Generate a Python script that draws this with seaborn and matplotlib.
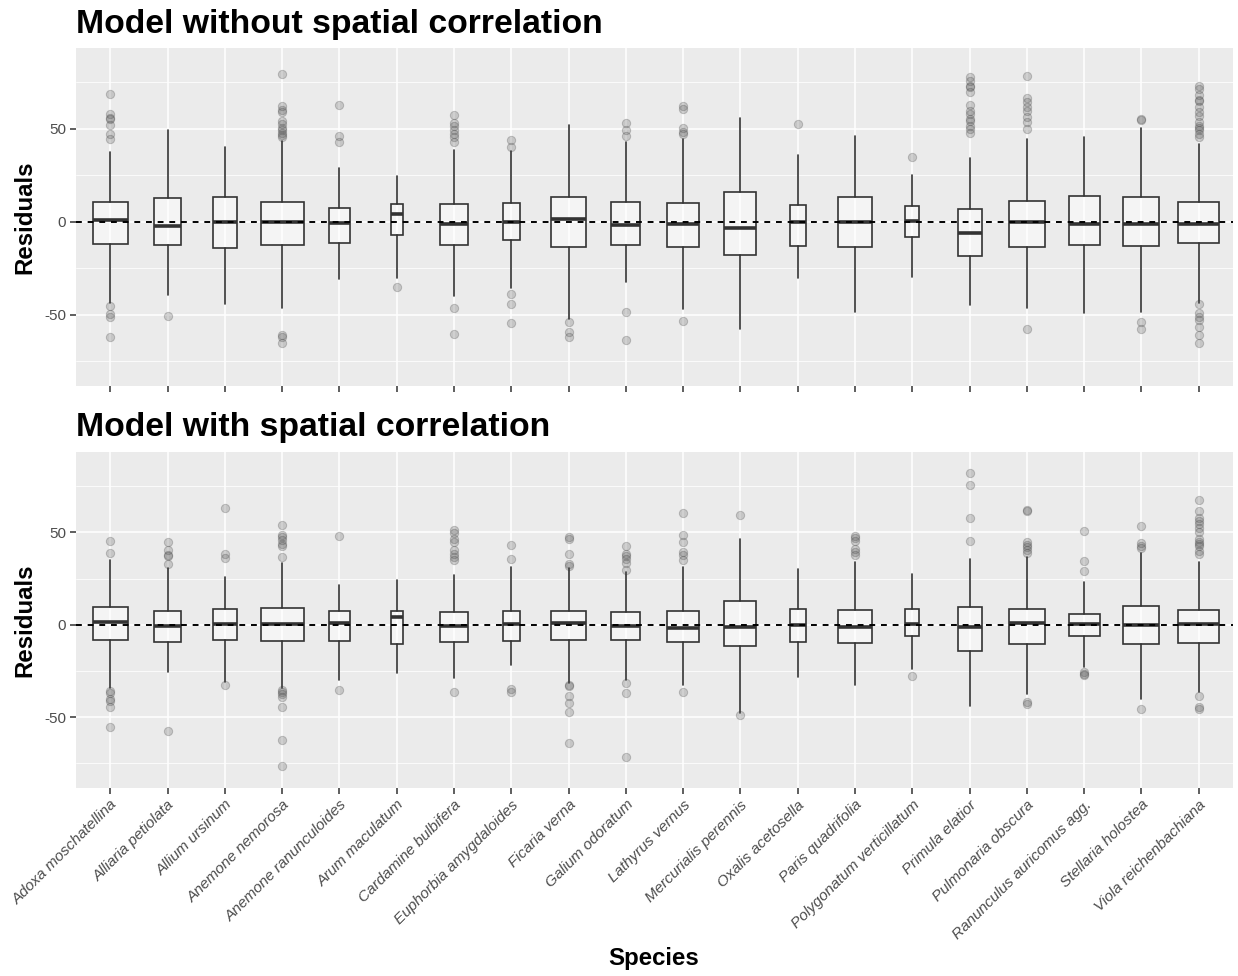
import numpy as np
import pandas as pd
import matplotlib
matplotlib.use("Agg")
import matplotlib.pyplot as plt
import seaborn as sns

# ---------------- data ----------------
species = ["Adoxa moschatellina", "Alliaria petiolata", "Allium ursinum",
           "Anemone nemorosa", "Anemone ranunculoides", "Arum maculatum",
           "Cardamine bulbifera", "Euphorbia amygdaloides", "Ficaria verna",
           "Galium odoratum", "Lathyrus vernus", "Mercurialis perennis",
           "Oxalis acetosella", "Paris quadrifolia", "Polygonatum verticillatum",
           "Primula elatior", "Pulmonaria obscura", "Ranunculus auricomus agg.",
           "Stellaria holostea", "Viola reichenbachiana"]

# estimated sample sizes (box widths ~ sqrt(n))
n_obs = [260, 158, 125, 400, 102, 30, 173, 62, 275, 185,
         221, 221, 57, 255, 42, 125, 280, 208, 280, 369]

# Model without spatial correlation
top_q1 = [-11.8, -12.5, -14.1, -12.2, -11.5, -7.2, -12.4, -9.7, -13.4, -12.7,
          -13.6, -17.9, -12.9, -13.8, -7.9, -18.3, -13.4, -12.7, -12.9, -11.5]
top_median = [0.8, -2.1, -0.2, 0.0, -0.5, 4.1, -1.1, -0.2, 1.3, -1.8,
              -1.4, -3.2, 0.0, -0.2, 0.7, -5.9, 0.0, -1.4, -1.4, -1.2]
top_q3 = [10.4, 12.6, 13.6, 10.9, 7.4, 9.7, 9.5, 9.9, 13.3, 10.6,
          9.9, 16.1, 8.8, 13.6, 8.6, 6.8, 11.1, 14.0, 13.6, 10.4]
top_lower = [-43.9, -39.4, -44.1, -46.2, -31.0, -30.3, -39.8, -35.8, -52.5, -32.3,
             -46.8, -57.9, -30.1, -48.4, -29.5, -44.8, -46.2, -48.9, -48.7, -43.5]
top_upper = [37.6, 49.3, 40.2, 43.4, 28.7, 24.6, 38.9, 38.0, 52.0, 42.7,
             44.3, 55.9, 35.9, 46.1, 25.1, 34.4, 44.3, 45.7, 50.6, 41.9]
top_outliers = [
    [68.8, 57.9, 56.1, 55.2, 52.2, 47.5, 44.3, -45.3, -49.6, -51.0, -61.8],
    [-50.7],
    [],
    [79.6, 62.2, 60.0, 59.0, 54.3, 52.5, 50.7, 49.3, 47.9, 46.6, 45.5, -60.7, -61.8, -65.4],
    [63.1, 46.2, 43.0],
    [-35.3],
    [57.4, 53.2, 51.6, 49.5, 47.0, 45.8, 43.0, -46.2, -60.4],
    [43.8, 40.3, -38.7, -44.4, -54.5],
    [-53.9, -59.1, -61.8],
    [53.4, 49.3, 45.9, -48.7, -63.6],
    [62.4, 60.6, 50.7, 48.4, 47.5, -53.4],
    [],
    [52.4],
    [],
    [35.0],
    [77.8, 76.0, 73.3, 72.5, 69.7, 63.1, 59.5, 57.8, 55.4, 54.1, 51.5, 50.1, 47.7],
    [78.3, 66.7, 64.5, 62.0, 59.5, 56.5, 53.8, 50.2, -57.7],
    [],
    [55.2, 54.6, -53.8, -57.9],
    [73.0, 71.4, 68.1, 65.4, 64.8, 61.8, 59.1, 56.8, 53.8, 51.6, 50.7, 49.3, 47.0, 45.8,
     -44.4, -48.9, -51.4, -52.8, -56.4, -60.7, -65.0],
]

# Model with spatial correlation
bot_q1 = [-8.3, -9.2, -8.1, -8.6, -8.5, -10.6, -9.4, -9.0, -8.1, -8.1,
          -9.2, -11.4, -9.4, -9.7, -5.9, -14.4, -10.5, -6.3, -10.3, -9.9]
bot_median = [1.6, -0.7, 0.7, 0.5, 0.9, 4.1, -0.9, 0.7, 1.1, -0.5,
              -1.8, -1.1, -0.2, -1.1, 0.4, -1.1, 1.1, 0.4, -0.2, 0.2]
bot_q3 = [9.5, 7.2, 8.3, 9.0, 7.7, 7.7, 7.0, 7.4, 7.7, 6.7,
          7.2, 12.8, 8.5, 7.9, 8.5, 9.4, 8.8, 6.1, 10.3, 8.1]
bot_lower = [-34.2, -25.4, -31.2, -34.2, -29.7, -26.0, -29.0, -22.0, -31.5, -29.7,
             -32.8, -47.7, -28.3, -32.4, -24.0, -44.1, -37.3, -23.1, -40.2, -36.4]
bot_upper = [34.8, 31.0, 25.8, 33.7, 21.6, 24.0, 27.2, 31.4, 30.6, 28.8,
             31.5, 46.5, 30.1, 34.2, 27.7, 35.7, 36.9, 23.2, 39.1, 34.2]
bot_outliers = [
    [45.6, 38.7, -35.7, -37.0, -40.2, -41.4, -44.5, -55.1],
    [45.0, 40.5, 37.8, 37.0, 33.0, -57.3],
    [63.1, 38.2, 36.1, -32.8],
    [54.0, 48.6, 47.4, 46.0, 43.8, 42.9, 36.9, -35.1, -36.2, -37.5, -39.1, -44.7, -62.5, -76.6],
    [48.1, -35.5],
    [],
    [51.4, 49.6, 46.3, 45.0, 40.5, 38.2, 36.9, 34.8, -36.6],
    [43.1, 35.5, -34.8, -36.6],
    [47.4, 46.6, 38.4, 33.0, 31.9, -32.4, -33.3, -38.4, -42.3, -47.4, -64.0],
    [42.9, 38.4, 37.0, 35.5, 33.3, 29.7, -31.5, -36.9, -71.5],
    [60.5, 48.6, 45.0, 39.6, 37.8, 34.8, -36.2],
    [59.5, -48.6],
    [],
    [48.3, 46.9, 45.4, 41.1, 39.3, 37.8],
    [-27.9],
    [82.3, 75.5, 57.8, 45.4],
    [62.0, 61.5, 45.0, 43.2, 41.9, 40.5, 38.7, -42.0, -42.7],
    [50.6, 34.6, 29.0, -25.6, -26.7, -27.4],
    [53.2, 44.5, 42.7, 41.8, -45.6],
    [67.7, 61.4, 58.0, 56.2, 54.6, 52.4, 50.2, 46.3, 45.0, 43.6, 42.4, 39.7, 38.2,
     -38.5, -44.7, -45.6],
]

titles = ["Model without spatial correlation", "Model with spatial correlation"]
y_label = "Residuals"
x_label = "Species"
y_ticks = [-50, 0, 50]

# ---------------- style ----------------
sns.set_theme(style="darkgrid", rc={
    "axes.facecolor": "#EBEBEB",
    "grid.color": "white",
    "figure.facecolor": "white",
})
plt.rcParams["font.family"] = ["Liberation Sans", "DejaVu Sans"]

W, H = 1238, 976
fig = plt.figure(figsize=(W / 100, H / 100), dpi=100)


def px_axes(l, t, r, b):
    return fig.add_axes([l / W, 1 - b / H, (r - l) / W, (b - t) / H])


ax_top = px_axes(76, 48, 1233, 386)
ax_bot = px_axes(76, 452, 1233, 788)

max_w = 0.75
widths = [max_w * np.sqrt(n / max(n_obs)) for n in n_obs]
positions = np.arange(len(species))

panels = [
    (ax_top, top_q1, top_median, top_q3, top_lower, top_upper, top_outliers),
    (ax_bot, bot_q1, bot_median, bot_q3, bot_lower, bot_upper, bot_outliers),
]

edge = "#333333"
for i, (ax, q1, med, q3, lo, hi, outl) in enumerate(panels):
    # outliers via seaborn
    rows = [(sp, v) for sp, vals in zip(species, outl) for v in vals]
    df = pd.DataFrame(rows, columns=["species", "residual"])
    sns.stripplot(data=df, x="species", y="residual", order=species, jitter=False,
                  color="#555555", alpha=0.25, size=6.0, linewidth=0.7,
                  edgecolor="#333333", ax=ax, zorder=3)

    stats = [dict(med=m, q1=a, q3=b, whislo=l, whishi=h, fliers=[])
             for m, a, b, l, h in zip(med, q1, q3, lo, hi)]
    ax.bxp(stats, positions=positions, widths=widths, showfliers=False,
           showcaps=False, patch_artist=True, manage_ticks=False,
           boxprops=dict(facecolor=(1, 1, 1, 0.45), edgecolor=edge, linewidth=1.2),
           whiskerprops=dict(color=edge, linewidth=1.2),
           medianprops=dict(color=edge, linewidth=2.6, solid_capstyle="butt"),
           zorder=2)

    ax.axhline(0, color="black", linestyle=(0, (3, 3)), linewidth=1.4, zorder=4)

    ax.set_xlim(-0.6, len(species) - 0.4)
    ax.set_ylim(-88.3, 93.5)
    ax.set_yticks(y_ticks)
    ax.set_yticklabels([str(t) for t in y_ticks])
    ax.set_yticks([-75, -25, 25, 75], minor=True)
    ax.set_xticks(positions)
    ax.grid(True, which="major", color="white", linewidth=1.1)
    ax.grid(True, which="minor", axis="y", color="white", linewidth=0.55)
    ax.set_axisbelow(True)
    for s in ax.spines.values():
        s.set_visible(False)
    ax.tick_params(axis="both", which="major", length=4.5, width=1.1, color=edge,
                   pad=2.5, labelcolor="#4D4D4D", bottom=True, left=True)
    ax.tick_params(axis="y", which="minor", length=0)
    ax.tick_params(axis="y", labelsize=11)
    ax.set_ylabel(y_label, fontsize=17.3, fontweight="bold", color="black")
    ax.yaxis.set_label_coords(-0.0345, 0.5)
    ax.set_xlabel("")

    fig.text(76 / W, 1 - (33 if i == 0 else 436) / H, titles[i], fontsize=24.3,
             fontweight="bold", va="baseline", ha="left", color="black")

ax_top.set_xticklabels([])
ax_bot.set_xticklabels(species, rotation=45, ha="right", va="top",
                       rotation_mode="anchor", fontstyle="italic", fontsize=11.1,
                       color="#4D4D4D")
fig.text(654 / W, 1 - 958 / H, x_label, fontsize=17.3, fontweight="bold",
         ha="center", va="center", color="black")

fig.savefig("out.png", dpi=100)
